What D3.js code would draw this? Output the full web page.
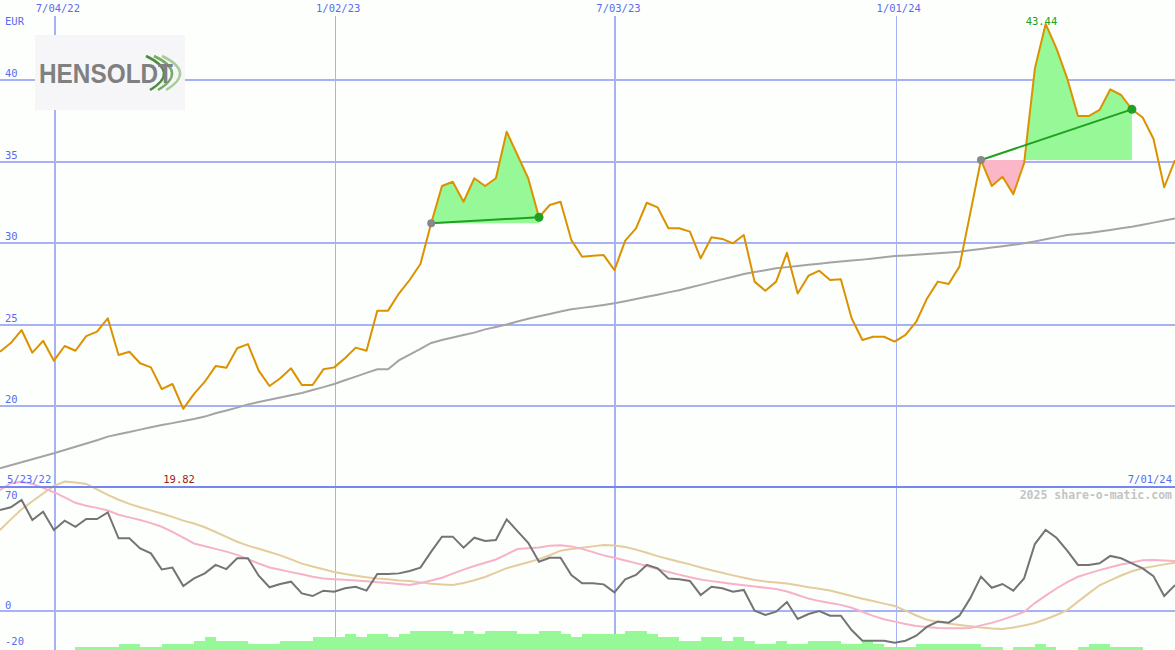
<!DOCTYPE html>
<html><head><meta charset="utf-8">
<script src="https://cdn.jsdelivr.net/npm/d3@7"></script>
<style>html,body{margin:0;padding:0;background:#fcfffc;}svg{display:block;}</style>
</head><body>
<svg id="c" width="1175" height="650"></svg>
<script>
// ---------- DATA ----------
const firstWeek = "2022-05-30";   // first weekly data point (Monday)
const lastWeek = "2024-07-01";
const price = [
23.33,23.86,24.66,23.27,24.0,22.78,23.68,23.39,24.29,24.56,
25.38,23.13,23.33,22.62,22.37,21.04,21.35,19.82,20.74,21.49,
22.45,22.35,23.54,23.8,22.17,21.23,21.7,22.31,21.29,21.29,
22.25,22.37,22.93,23.58,23.39,25.85,25.85,26.9,27.73,28.71,
31.21,33.5,33.76,32.53,33.97,33.5,33.97,36.83,35.4,33.97,
31.58,32.33,32.53,30.18,29.16,29.22,29.26,28.34,30.14,30.9,
32.47,32.19,30.9,30.9,30.7,29.06,30.35,30.25,29.98,30.49,
27.63,27.07,27.63,29.4,26.9,27.99,28.3,27.73,27.77,25.38,
24.05,24.25,24.25,23.95,24.36,25.17,26.6,27.63,27.48,28.55,
31.8,35.09,33.5,34.07,33.0,34.89,40.7,43.44,41.94,40.1,
37.79,37.79,38.16,39.43,39.08,38.2,37.7,36.4,33.42,35.09];
const movingAvg = [
16.18,16.36,16.55,16.73,16.92,17.1,17.3,17.5,17.7,17.9,
18.12,18.27,18.4,18.55,18.7,18.83,18.95,19.08,19.2,19.35,
19.55,19.72,19.9,20.1,20.24,20.38,20.52,20.66,20.8,20.98,
21.16,21.35,21.58,21.8,22.03,22.25,22.25,22.8,23.15,23.5,
23.87,24.05,24.2,24.35,24.5,24.7,24.85,25.0,25.18,25.35,
25.5,25.65,25.8,25.93,26.02,26.1,26.2,26.3,26.43,26.56,
26.7,26.83,26.97,27.1,27.27,27.43,27.6,27.77,27.93,28.1,
28.22,28.33,28.45,28.52,28.59,28.66,28.73,28.8,28.86,28.92,
28.98,29.05,29.12,29.2,29.24,29.28,29.33,29.37,29.42,29.46,
29.55,29.63,29.72,29.8,29.89,29.98,30.1,30.23,30.36,30.49,
30.55,30.62,30.7,30.8,30.9,31.0,31.12,31.25,31.38,31.5];
const oscillator = [
56.1,57.6,61.7,50.6,55.2,45,50.2,46.8,51.1,51.1,
54.8,40.4,40.4,34.8,32.0,23.1,24.1,13.9,18.1,20.9,
25.6,23.3,29.3,29.3,19.6,13.2,15,16.3,9.8,8.3,
11.3,10.7,12.6,13.5,11.3,20.6,20.6,20.9,22.2,24.1,
33,41.3,41.3,35.2,40.7,38.9,39.4,50.9,44.4,37.9,
27.4,29.6,29.6,20,15.4,15.4,14.8,10.4,17.6,20,
25.6,23.7,18.1,17.6,16.7,8.9,13.5,12.6,10.7,11.7,
0.2,-2.2,-0.4,5.0,-4.4,-1.7,0,-2.6,-2.6,-10.6,
-16.5,-16.5,-16.5,-17.6,-16.5,-13.7,-8.7,-5.9,-6.5,-2.6,
7.0,19.1,12.9,15,11.3,18.1,37.2,45,40.7,33.5,
25.6,25.6,26.5,30.6,29.3,26.5,23.7,19.4,8.3,14.4];
const oscFast = [
67.2,71.0,71.8,70.6,68.4,66,63.1,60.1,58.5,57.3,
55.8,53.5,52,50.6,48.8,46.8,44,40.7,37.5,36,
34.5,33,31.2,28.8,26.4,24.2,22.9,21.6,20.4,19,
18,17.7,17.3,16.9,16.5,16,15.5,15,14.4,15.6,
16.9,18.5,20.8,23,25,26.8,28.6,31.5,34.4,34.9,
35.3,36.2,36.5,35.9,34.5,32.7,30.9,29.6,28.1,26.6,
25,23.3,21.7,20.2,18.8,17.5,16.6,15.8,15,14.3,
13.6,12.9,12.2,10.8,8.9,6.9,5.5,4.4,3.4,1.8,
-0.4,-2.7,-4.6,-5.9,-7.2,-8.3,-8.9,-9.5,-9.6,-9.6,
-9.4,-8,-6.6,-4.8,-2.7,-0.5,4.4,8.5,12.5,16,
19,20.9,22.7,24.3,25.8,27,28.2,28.3,28.1,27.8];
const oscSlow = [
45,50.9,56.5,61,65.3,69.5,71.9,71.4,70.6,67.6,
64.5,61.8,59.5,57.6,55.9,54.2,52.3,50.2,48.6,46.5,
43.9,41.2,38.5,36.3,34.6,32.8,30.9,28.7,26.3,24.7,
23.2,21.7,20.5,19.6,18.7,18,17.6,17,16.6,15.9,
15.1,14.7,14.4,15.6,17.1,18.9,21.3,23.8,25.4,27.1,
28.8,31,33.5,34.5,35.2,35.9,36.7,36.4,35.5,34.1,
32.4,30.5,28.9,27.4,25.9,24.2,22.6,21.2,19.8,18.5,
17.2,16.4,15.9,15.3,14.3,13.2,12.3,11.4,9.9,8.3,
6.8,5.5,4.1,2.8,0.2,-2.5,-4.9,-6.1,-7,-7.8,
-8.5,-9.2,-9.7,-10,-9.2,-8,-6.7,-4.6,-2.2,0.5,
5.2,9.8,14.3,17,19.7,22.1,23.7,24.8,25.9,26.8];
const volume = [
0,0,0,0,0,0,0,1,1,1,
1,2,2,1,1,2,2,2,3,4,
3,3,3,2,2,2,3,3,3,4,
4,4,5,4,5,5,4,5,6,6,
6,6,5,6,5,6,6,6,5,5,
6,6,5,4,5,5,5,5,6,6,
5,4,4,3,3,4,4,3,4,3,
2,2,3,2,2,3,3,3,2,2,
3,2,1,1,1,2,2,2,2,2,
2,1,1,0,1,1,2,1,0,0,
1,2,2,1,1,1,0,0,0,0];
const signalStart = [40, 91];
const signalEnd = [50, 105];
const gridDates = ["2022-07-04","2023-01-02","2023-07-03","2024-01-01"];
const gridLabels = ["7/04/22","1/02/23","7/03/23","1/01/24"];
const gridWidths = [2,1,2,1];
const priceTicks = [40,35,30,25,20];
const oscTicks = [70,0,-20];
const highLabel = "43.44", lowLabel = "19.82";
const startLabel = "5/23/22", endLabel = "7/01/24";

// ---------- SCALES ----------
const parse = d3.utcParse("%Y-%m-%d");
const dates = d3.utcMonday.every(1).range(parse(firstWeek), d3.utcDay.offset(parse(lastWeek),1));
const x = d3.scaleUtc().domain([parse(firstWeek), parse(lastWeek)]).range([0, 1175]);
const y = d3.scaleLinear().domain([20, 40]).range([406, 80]);
const yo = d3.scaleLinear().domain([-20, 70]).range([647, 485]);
const yv = d3.scaleLinear().domain([0, 6]).range([650, 631]);
const weekW = x(dates[1]) - x(dates[0]);

const svg = d3.select("#c");
const MONO = "'DejaVu Sans Mono', monospace";
const GRID = "#a6b2f4", TXT = "#5a6af2";

svg.append("rect").attr("width",1175).attr("height",650).attr("fill","#fcfffc");

// horizontal price grid
svg.append("g").selectAll("line").data(priceTicks).join("line")
  .attr("x1",0).attr("x2",1175).attr("y1",d=>Math.round(y(d))).attr("y2",d=>Math.round(y(d)))
  .attr("stroke",GRID).attr("stroke-width",2).attr("shape-rendering","crispEdges");
// osc zero line
svg.append("line").attr("x1",0).attr("x2",1175).attr("y1",Math.round(yo(0))).attr("y2",Math.round(yo(0)))
  .attr("stroke",GRID).attr("stroke-width",2).attr("shape-rendering","crispEdges");
// vertical grid
svg.append("g").selectAll("line").data(gridDates).join("line")
  .attr("x1",d=>Math.round(x(parse(d)))+1).attr("x2",d=>Math.round(x(parse(d)))+1)
  .attr("y1",16).attr("y2",650)
  .attr("stroke",GRID).attr("stroke-width",(d,i)=>gridWidths[i]).attr("shape-rendering","crispEdges");

// volume bars
svg.append("g").selectAll("rect").data(volume.map((v,i)=>({v,i})).filter(d=>d.v>0)).join("rect")
  .attr("x",d=>x(dates[d.i])).attr("width",weekW)
  .attr("y",d=>yv(d.v)).attr("height",d=>650-yv(d.v))
  .attr("fill","#96f896").attr("shape-rendering","crispEdges");

// signal fills
const defs = svg.append("defs");
signalStart.forEach((s,k)=>{
  const e = signalEnd[k];
  const base = price[s];
  const pts = d3.range(s, e+1);
  const x0 = x(dates[s]), x1 = x(dates[e]), yb = y(base);
  defs.append("clipPath").attr("id","up"+k).append("rect")
    .attr("x",x0).attr("y",0).attr("width",x1-x0).attr("height",yb);
  defs.append("clipPath").attr("id","dn"+k).append("rect")
    .attr("x",x0).attr("y",yb).attr("width",x1-x0).attr("height",487-yb);
  const area = d3.area().x(i=>x(dates[i])).y0(yb).y1(i=>y(price[i]));
  svg.append("path").attr("d",area(pts)).attr("fill","#96f896").attr("clip-path",`url(#up${k})`);
  svg.append("path").attr("d",area(pts)).attr("fill","#fbb6c8").attr("clip-path",`url(#dn${k})`);
});

// moving average & price
const lineP = d3.line().x((d,i)=>x(dates[i])).y(d=>y(d));
svg.append("path").attr("d",lineP(movingAvg)).attr("fill","none").attr("stroke","#a4a4a4").attr("stroke-width",2);
svg.append("path").attr("d",lineP(price)).attr("fill","none").attr("stroke","#dc9200").attr("stroke-width",2).attr("stroke-linejoin","round");

// signal lines and markers
signalStart.forEach((s,k)=>{
  const e = signalEnd[k];
  svg.append("line").attr("x1",x(dates[s])).attr("y1",y(price[s])).attr("x2",x(dates[e])).attr("y2",y(price[e]))
    .attr("stroke","#20a020").attr("stroke-width",2);
  svg.append("circle").attr("cx",x(dates[s])).attr("cy",y(price[s])).attr("r",4).attr("fill","#888");
  svg.append("circle").attr("cx",x(dates[e])).attr("cy",y(price[e])).attr("r",4.5).attr("fill","#20a020");
});

// oscillator lines
const lineO = d3.line().x((d,i)=>x(dates[i])).y(d=>yo(d));
svg.append("path").attr("d",lineO(oscSlow)).attr("fill","none").attr("stroke","#e4cc9c").attr("stroke-width",2);
svg.append("path").attr("d",lineO(oscFast)).attr("fill","none").attr("stroke","#f8b2c8").attr("stroke-width",2);
svg.append("path").attr("d",lineO(oscillator)).attr("fill","none").attr("stroke","#747474").attr("stroke-width",2);

// separator
svg.append("line").attr("x1",0).attr("x2",1175).attr("y1",487).attr("y2",487)
  .attr("stroke","#7686ee").attr("stroke-width",2).attr("shape-rendering","crispEdges");

// logo
const logo = svg.append("g");
logo.append("rect").attr("x",35).attr("y",35).attr("width",150).attr("height",75).attr("fill","#f6f6f8");
[[146,"#4c8c3c"],[154,"#74ac64"],[162,"#a8cc98"]].forEach(([x0,c])=>{
  logo.append("path").attr("d",`M${x0},56 Q${x0+34},72 ${x0+4},90`).attr("fill","none").attr("stroke",c).attr("stroke-width",2.5);
});
logo.append("text").attr("x",39).attr("y",83).text("HENSOLDT")
  .attr("font-family","'Liberation Sans', Arial, sans-serif").attr("font-weight","bold").attr("font-size",27)
  .attr("textLength",134).attr("lengthAdjust","spacingAndGlyphs").attr("fill","#808080");

// text labels
const txt = (s,xx,yy,opt={}) => svg.append("text").attr("x",xx).attr("y",yy).text(s)
  .attr("font-family",MONO).attr("font-size",opt.size||10.5).attr("fill",opt.fill||TXT)
  .attr("text-anchor",opt.anchor||"start").attr("font-weight",opt.weight||"normal");
txt("EUR",5,25);
priceTicks.forEach(t=>txt(String(t),5,Math.round(y(t))-3));
gridDates.forEach((d,i)=>txt(gridLabels[i], x(parse(d))+4, 12, {anchor:"middle"}));
txt(startLabel,7,483);
txt(endLabel,1172,483,{anchor:"end"});
oscTicks.forEach(t=>{
  const yy = t===70 ? yo(t)+14 : yo(t)-2;
  txt(String(t),5,yy);
});
const hiI = price.indexOf(d3.max(price)), loI = price.indexOf(d3.min(price));
txt(highLabel, x(dates[hiI])-20, 25, {fill:"#20a020"});
txt(lowLabel, x(dates[loI])-20, 483, {fill:"#a02020"});
svg.append("text").attr("x",1172).attr("y",499).text("2025 share-o-matic.com")
  .attr("font-family",MONO).attr("font-size",11.5).attr("font-weight","bold").attr("fill","#c4c4c4")
  .attr("text-anchor","end");
</script>
</body></html>
